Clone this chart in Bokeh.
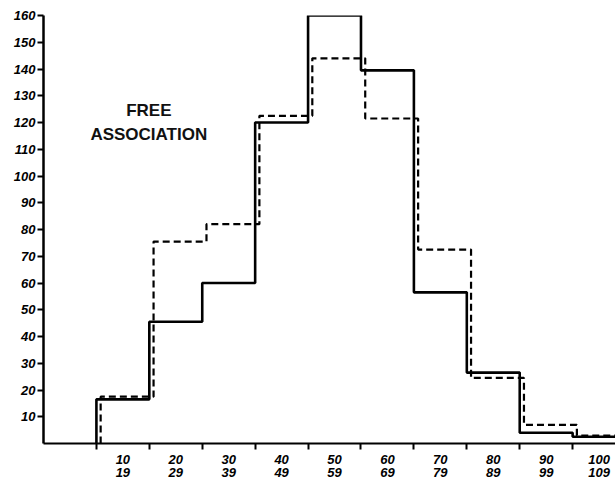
from bokeh.plotting import figure
from bokeh.models import FixedTicker, Label, Range1d
from bokeh.embed import file_html
from bokeh.resources import INLINE

# ---- data ----
bin_low = [10, 20, 30, 40, 50, 60, 70, 80, 90, 100]
bin_high = [19, 29, 39, 49, 59, 69, 79, 89, 99, 109]
solid_counts = [16.5, 45.5, 60, 120, 160, 139.5, 56.5, 26.5, 4, 2.5]
dashed_counts = [17.5, 75.5, 82, 122.5, 144, 121.5, 72.5, 24.5, 7, 3]
y_ticks = [10, 20, 30, 40, 50, 60, 70, 80, 90, 100, 110, 120, 130, 140, 150, 160]
title_lines = ["FREE", "ASSOCIATION"]

BIN_W = 10
DASH_SHIFT = 0.8  # hand-drawn offset of the dashed outline


def outline(lows, counts, shift=0.0):
    xs = [lows[0] + shift]
    ys = [0]
    for lo, c in zip(lows, counts):
        xs += [lo + shift, lo + BIN_W + shift]
        ys += [c, c]
    return xs, ys


p = figure(width=615, height=483, output_backend="svg", toolbar_location=None,
           x_range=Range1d(0, 108.1), y_range=Range1d(0, 160),
           min_border_left=43, min_border_right=0, min_border_top=15,
           min_border_bottom=40)
p.outline_line_color = None
p.xgrid.visible = False
p.ygrid.visible = False
p.background_fill_color = "white"

sx, sy = outline(bin_low, solid_counts)
p.line(sx, sy, line_color="black", line_width=2.6)
dx, dy = outline(bin_low, dashed_counts, DASH_SHIFT)
p.line(dx, dy, line_color="black", line_width=2.2, line_dash="7 4")

# y axis
p.yaxis.ticker = FixedTicker(ticks=y_ticks)
p.yaxis.major_tick_out = 6
p.yaxis.major_tick_in = 0
p.yaxis.minor_tick_out = 0
p.yaxis.minor_tick_in = 0
p.yaxis.axis_line_width = 2.5
p.yaxis.major_tick_line_width = 2
p.yaxis.major_label_standoff = 2
p.yaxis.major_label_text_font = "Liberation Sans"
p.yaxis.major_label_text_font_style = "bold italic"
p.yaxis.major_label_text_font_size = "13px"
p.yaxis.major_label_text_color = "black"

# x axis: labels at bin centres, tick marks at bin edges
centers = [lo + BIN_W / 2 for lo in bin_low]
edges = bin_low + [bin_low[-1] + BIN_W]
p.xaxis.ticker = FixedTicker(ticks=centers, minor_ticks=edges)
p.xaxis.major_label_overrides = {c: f"{lo}\n{hi}" for c, lo, hi in zip(centers, bin_low, bin_high)}
p.xaxis.major_tick_out = 0
p.xaxis.major_tick_in = 0
p.xaxis.minor_tick_out = 6
p.xaxis.minor_tick_in = 0
p.xaxis.minor_tick_line_width = 2
p.xaxis.minor_tick_line_color = "black"
p.xaxis.axis_line_width = 2.2
p.xaxis.major_label_standoff = 2
p.xaxis.major_label_text_font = "Liberation Sans"
p.xaxis.major_label_text_font_style = "bold italic"
p.xaxis.major_label_text_font_size = "13px"
p.xaxis.major_label_text_color = "black"
p.xaxis.major_label_text_line_height = 0.9

for txt, yy in zip(title_lines, [124.5, 115.5]):
    p.add_layout(Label(x=19.9, y=yy, text=txt, text_align="center",
                       text_baseline="alphabetic", text_font="Liberation Sans",
                       text_font_size="17px", text_font_style="bold",
                       text_color="#111111"))

open("out.html", "w").write(file_html(p, INLINE))
